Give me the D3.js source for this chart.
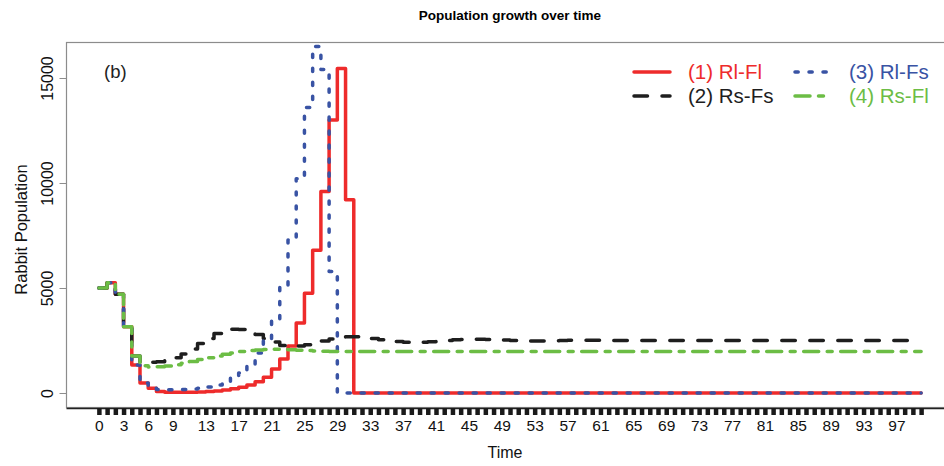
<!DOCTYPE html>
<html>
<head>
<meta charset="utf-8">
<script src="https://cdn.jsdelivr.net/npm/d3@7"></script>
<style>
  body { margin: 0; background: #fff; }
  svg { font-family: "Liberation Sans", Arial, sans-serif; display: block; }
</style>
</head>
<body>
<div id="app"></div>
<script>
const container = document.querySelector('#app');

// chart size
const width = 944;
const height = 466;
const plotLeft = 66;
const plotRight = 954;
const plotTop = 42;
const plotBottom = 407;

// time steps (tick at every step, only some labelled)
const timeTicks = d3.range(0, 101);
const timeLabels = [0, 3, 6, 9, 13, 17, 21, 25, 29, 33, 37, 41, 45, 49, 53, 57, 61, 65, 69, 73, 77, 81, 85, 89, 93, 97];
const popTicks = [0, 5000, 10000, 15000];

// (1) Rl-Fl
const rlFl = [
  5000, 5250, 4700, 3150, 1330, 480, 230, 70, 40, 30,
  30, 40, 50, 70, 100, 140, 200, 270, 380, 540,
  750, 1140, 1620, 2240, 3330, 4750, 6800, 9600, 13000, 15450,
  9200, 0, 0, 0, 0, 0, 0, 0, 0, 0,
  0, 0, 0, 0, 0, 0, 0, 0, 0, 0,
  0, 0, 0, 0, 0, 0, 0, 0, 0, 0,
  0, 0, 0, 0, 0, 0, 0, 0, 0, 0,
  0, 0, 0, 0, 0, 0, 0, 0, 0, 0,
  0, 0, 0, 0, 0, 0, 0, 0, 0, 0,
  0, 0, 0, 0, 0, 0, 0, 0, 0, 0,
  0
];

// (2) Rs-Fs
const rsFs = [
  5000, 5250, 4700, 3150, 1760, 1430, 1460, 1490, 1560, 1680,
  1860, 2100, 2360, 2600, 2830, 2970, 3030, 3020, 2950, 2780,
  2600, 2430, 2260, 2220, 2240, 2300, 2380, 2480, 2570, 2640,
  2680, 2680, 2650, 2600, 2540, 2490, 2450, 2420, 2410, 2420,
  2440, 2470, 2500, 2530, 2550, 2560, 2560, 2550, 2540, 2520,
  2500, 2490, 2480, 2480, 2480, 2490, 2500, 2510, 2510, 2510,
  2510, 2500, 2500, 2500, 2500, 2500, 2500, 2500, 2500, 2500,
  2500, 2500, 2500, 2500, 2500, 2500, 2500, 2500, 2500, 2500,
  2500, 2500, 2500, 2500, 2500, 2500, 2500, 2500, 2500, 2500,
  2500, 2500, 2500, 2500, 2500, 2500, 2500, 2500, 2500, 2500,
  2500
];

// (3) Rl-Fs
const rlFs = [
  5000, 5250, 4700, 3150, 1330, 480, 230, 170, 160, 160,
  170, 190, 230, 290, 380, 540, 720, 950, 1330, 1900,
  2520, 3480, 5060, 7290, 10200, 13600, 16500, 15400, 5780, 0,
  0, 0, 0, 0, 0, 0, 0, 0, 0, 0,
  0, 0, 0, 0, 0, 0, 0, 0, 0, 0,
  0, 0, 0, 0, 0, 0, 0, 0, 0, 0,
  0, 0, 0, 0, 0, 0, 0, 0, 0, 0,
  0, 0, 0, 0, 0, 0, 0, 0, 0, 0,
  0, 0, 0, 0, 0, 0, 0, 0, 0, 0,
  0, 0, 0, 0, 0, 0, 0, 0, 0, 0,
  0
];

// (4) Rs-Fl
const rsFl = [
  5000, 5250, 4700, 3150, 1760, 1300, 1240, 1250, 1290, 1350,
  1420, 1500, 1590, 1680, 1760, 1840, 1910, 1970, 2020, 2050,
  2070, 2080, 2070, 2060, 2040, 2020, 2000, 1990, 1980, 1980,
  1980, 1980, 1980, 1980, 1980, 1980, 1980, 1980, 1980, 1980,
  1980, 1980, 1980, 1980, 1980, 1980, 1980, 1980, 1980, 1980,
  1980, 1980, 1980, 1980, 1980, 1980, 1980, 1980, 1980, 1980,
  1980, 1980, 1980, 1980, 1980, 1980, 1980, 1980, 1980, 1980,
  1980, 1980, 1980, 1980, 1980, 1980, 1980, 1980, 1980, 1980,
  1980, 1980, 1980, 1980, 1980, 1980, 1980, 1980, 1980, 1980,
  1980, 1980, 1980, 1980, 1980, 1980, 1980, 1980, 1980, 1980,
  1980
];

// drawing order: 1, 2, 3, 4
const series = [
  { label: "(1) Rl-Fl", values: rlFl, color: "#ee2b2b", dash: null, width: 3.5 },
  { label: "(2) Rs-Fs", values: rsFs, color: "#1e1e1e", dash: "13.5 14.5", width: 3.5 },
  { label: "(3) Rl-Fs", values: rlFs, color: "#3953a4", dash: "3.2 10.8", width: 3.5 },
  { label: "(4) Rs-Fl", values: rsFl, color: "#6cbd45", dash: "15 8.5 5 8.5", width: 3.5 }
];

const x = d3.scaleLinear()
    .domain([-4, 104])
    .range([plotLeft, plotRight]);

const y = d3.scaleLinear()
    .domain([-667, 16714])
    .range([plotBottom, plotTop]);

const svg = d3.create("svg")
    .attr("width", width)
    .attr("height", height);

svg.append("defs").append("clipPath")
    .attr("id", "plot-clip")
  .append("rect")
    .attr("x", plotLeft)
    .attr("y", plotTop)
    .attr("width", plotRight - plotLeft)
    .attr("height", plotBottom - plotTop);

// title
svg.append("text")
    .attr("x", (plotLeft + plotRight) / 2)
    .attr("y", 20)
    .attr("text-anchor", "middle")
    .attr("font-size", 13.5)
    .attr("font-weight", "bold")
    .text("Population growth over time");

// the lines (R type = "s")
const line = d3.line()
    .x((d, i) => x(timeTicks[i]))
    .y(d => y(d))
    .curve(d3.curveStepAfter);

const lines = svg.append("g").attr("clip-path", "url(#plot-clip)");
series.forEach(s => {
  lines.append("path")
      .datum(s.values)
      .attr("fill", "none")
      .attr("stroke", s.color)
      .attr("stroke-width", s.width)
      .attr("stroke-linecap", "round")
      .attr("stroke-linejoin", "round")
      .attr("stroke-dasharray", s.dash)
      .attr("d", line);
});

// box
svg.append("rect")
    .attr("x", plotLeft + 0.5)
    .attr("y", plotTop + 0.5)
    .attr("width", plotRight - plotLeft)
    .attr("height", plotBottom - plotTop)
    .attr("fill", "none")
    .attr("stroke", "#8c8c8c")
    .attr("stroke-width", 1.2);

// x axis
const xAxis = svg.append("g")
    .attr("transform", `translate(0,${plotBottom + 1})`)
    .call(d3.axisBottom(x)
      .tickValues(timeTicks)
      .tickSize(7)
      .tickSizeOuter(0)
      .tickPadding(5)
      .tickFormat(d => timeLabels.includes(d) ? d : ""));
xAxis.select(".domain").attr("stroke", "#222").attr("stroke-width", 1.5);
xAxis.selectAll(".tick line").attr("stroke", "#1a1a1a").attr("stroke-width", 4.5);
xAxis.selectAll(".tick text")
    .attr("font-size", 15.5)
    .attr("fill", "#111");

// y axis
const yAxis = svg.append("g")
    .attr("transform", `translate(${plotLeft + 0.5},0)`)
    .call(d3.axisLeft(y)
      .tickValues(popTicks)
      .tickSize(7)
      .tickSizeOuter(0)
      .tickFormat(d3.format("d")));
yAxis.select(".domain").remove();
yAxis.selectAll(".tick line").attr("stroke", "#8c8c8c");
yAxis.selectAll(".tick text")
    .attr("transform", "rotate(-90)")
    .attr("x", 0)
    .attr("y", -14)
    .attr("dy", 0)
    .attr("text-anchor", "middle")
    .attr("font-size", 16)
    .attr("fill", "#111");

// axis titles
svg.append("text")
    .attr("x", (plotLeft + plotRight) / 2 - 5)
    .attr("y", 458)
    .attr("text-anchor", "middle")
    .attr("font-size", 16)
    .attr("fill", "#111")
    .text("Time");

svg.append("text")
    .attr("transform", `translate(27,${(plotTop + plotBottom) / 2 + 5}) rotate(-90)`)
    .attr("text-anchor", "middle")
    .attr("font-size", 16.5)
    .attr("fill", "#111")
    .text("Rabbit Population");

// panel tag
svg.append("text")
    .attr("x", 104)
    .attr("y", 78)
    .attr("font-size", 18.5)
    .attr("fill", "#222")
    .text("(b)");

// legend, two columns
const legendCols = [632, 793];
const legendRows = [72, 96];
const legend = svg.append("g");
series.forEach((s, i) => {
  const col = i < 2 ? 0 : 1;
  const row = i % 2;
  const lx = legendCols[col];
  const ly = legendRows[row];
  legend.append("line")
      .attr("x1", lx + 2)
      .attr("x2", lx + 38)
      .attr("y1", ly)
      .attr("y2", ly)
      .attr("stroke", s.color)
      .attr("stroke-width", s.width)
      .attr("stroke-linecap", "round")
      .attr("stroke-dasharray", s.dash);
  legend.append("text")
      .attr("x", lx + 56)
      .attr("y", ly + 7)
      .attr("font-size", 20.5)
      .attr("fill", s.color)
      .text(s.label);
});

container.append(svg.node());
</script>
</body>
</html>
